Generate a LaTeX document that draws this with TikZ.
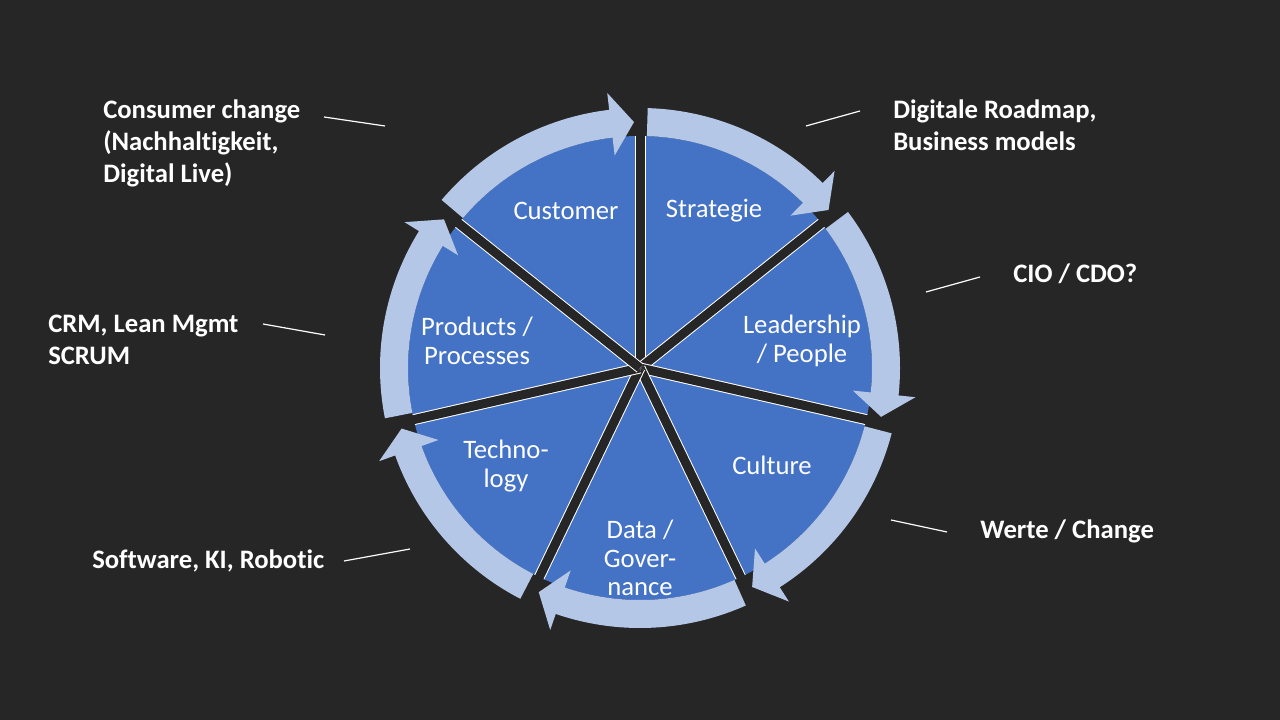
\documentclass[tikz,border=0pt]{standalone}
\usepackage{fontspec}
\setmainfont{Carlito}[Ligatures=NoCommon]
\definecolor{bgdark}{HTML}{262626}
\definecolor{pieblue}{HTML}{4472C4}
\definecolor{ringblue}{HTML}{B4C7E7}
\tikzset{piece/.style={font=\fontsize{20}{21.5}\selectfont,text=white,align=center},
         remark/.style={font=\fontsize{20}{24}\selectfont\bfseries,text=white,align=left,anchor=west,inner sep=0pt},
         leader/.style={white,line width=0.9pt},
         ring/.style={fill=ringblue}}
\begin{document}
\begin{tikzpicture}[x=0.75pt,y=0.75pt]
  \fill[bgdark] (0,0) rectangle (1280,720);
  \useasboundingbox (0,0) rectangle (1280,720);
  \begin{scope}[shift={(640,352)}]
    \fill[pieblue] (0,0) circle (232);
    % spokes
    \foreach \a in {90,38.571,-12.857,-64.286,-115.714,-167.143,-218.571}{
      \draw[white,line width=11*0.75pt] (0,0) -- (\a:232);
      \draw[bgdark,line width=9*0.75pt] (0,0) -- (\a:262);
    }
    % clockwise arrows on the ring
    \foreach \s in {90,38.571,-12.857,-64.286,-115.714,-167.143,-218.571}{
      \pgfmathsetmacro{\aa}{\s-1.7}
      \pgfmathsetmacro{\bb}{\s-51.429+6.8}
      \pgfmathsetmacro{\tip}{\s-51.429+1.4}
      \fill[ring] (\aa:260) arc[start angle=\aa,end angle=\bb,radius=260]
        -- (\bb:277) -- (\tip:246) -- (\bb:214) -- (\bb:232)
        arc[start angle=\bb,end angle=\aa,radius=232] -- cycle;
    }
  \end{scope}

  \node[piece] (customer) at (566,509) {Customer};
  \node[piece] (strategie) at (714,509) {Strategie};
  \node[piece] (leadership) at (802,379) {Leadership\\/ People};
  \node[piece] (culture) at (772,255) {Culture};
  \node[piece] (data) at (640,162) {Data /\\Gover-\\nance};
  \node[piece] (techno) at (506,254) {Techno-\\logy};
  \node[piece] (products) at (477,379) {Products /\\Processes};

  \node[remark] (consumer) at (103,577) {Consumer change\\(Nachhaltigkeit,\\Digital Live)};
  \node[remark] (roadmap) at (893,595) {Digitale Roadmap,\\Business models};
  \node[remark] (cio) at (1013,446) {CIO / CDO?};
  \node[remark] (crm) at (48,380) {CRM, Lean Mgmt\\SCRUM};
  \node[remark] (werte) at (980,189) {Werte / Change};
  \node[remark] (software) at (92,159) {Software, KI, Robotic};

  \coordinate (consumer-a) at (324,603); \coordinate (consumer-b) at (385,594);
  \coordinate (roadmap-a) at (806,594); \coordinate (roadmap-b) at (860,609);
  \coordinate (cio-a) at (926,428); \coordinate (cio-b) at (980,443);
  \coordinate (crm-a) at (263,396); \coordinate (crm-b) at (325,385);
  \coordinate (werte-a) at (891,200); \coordinate (werte-b) at (947,188);
  \coordinate (software-a) at (344,159); \coordinate (software-b) at (410,171);
  \draw[leader] (consumer-a) -- (consumer-b);
  \draw[leader] (roadmap-a) -- (roadmap-b);
  \draw[leader] (cio-a) -- (cio-b);
  \draw[leader] (crm-a) -- (crm-b);
  \draw[leader] (werte-a) -- (werte-b);
  \draw[leader] (software-a) -- (software-b);
\end{tikzpicture}
\end{document}
